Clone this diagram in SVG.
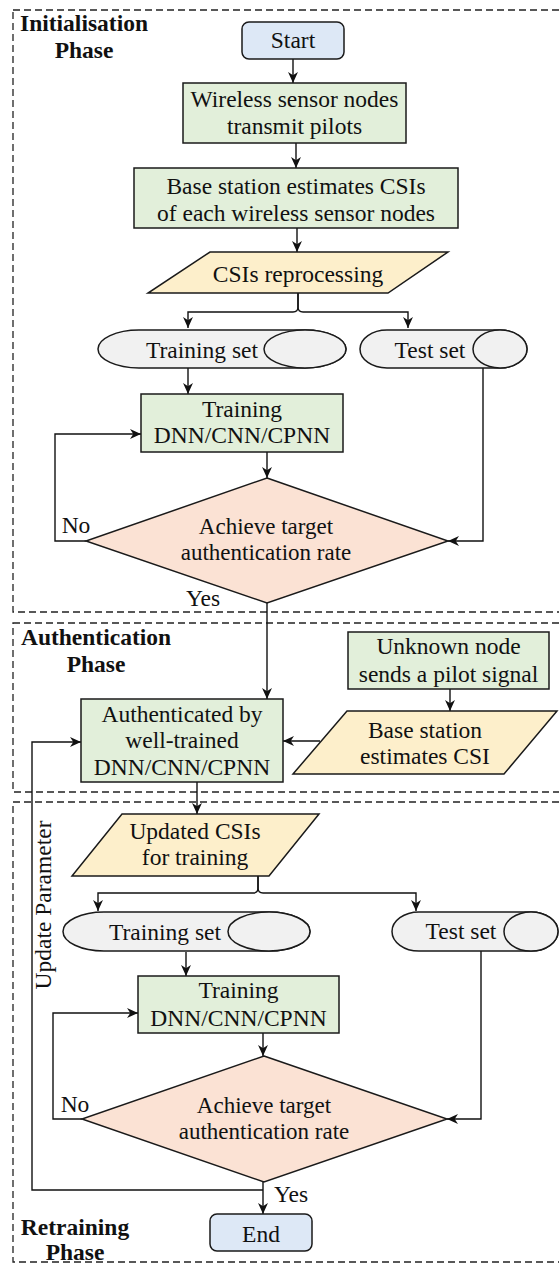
<svg xmlns="http://www.w3.org/2000/svg" width="559" height="1265" viewBox="0 0 559 1265">
<style>
.t{font-family:"Liberation Serif","Times New Roman",serif;font-size:23.5px;fill:#111;text-anchor:middle}
.d{font-family:"Liberation Serif","Times New Roman",serif;font-size:23px;fill:#111;text-anchor:middle}
.b{font-family:"Liberation Serif","Times New Roman",serif;font-size:23.5px;font-weight:bold;fill:#111;text-anchor:middle}
.phase{fill:none;stroke:#222;stroke-width:1.3;stroke-dasharray:7,4}
.g{fill:#e2efda;stroke:#1a1a1a;stroke-width:1.5}
.bl{fill:#dde8f6;stroke:#1a1a1a;stroke-width:1.5}
.y{fill:#fdefcb;stroke:#1a1a1a;stroke-width:1.5}
.p{fill:#fbe2d4;stroke:#1a1a1a;stroke-width:1.5}
.c{fill:#f1f1f1;stroke:#1a1a1a;stroke-width:1.5}
.a{fill:none;stroke:#111;stroke-width:1.4;marker-end:url(#arr)}
</style>
<defs>
<marker id="arr" viewBox="0 0 10 10" refX="10" refY="5" markerWidth="11" markerHeight="11" markerUnits="userSpaceOnUse" orient="auto">
<path d="M0,0.5 L10,5 L0,9.5 L3,5 z" fill="#111"/>
</marker>
</defs>

<g id="phases">
<rect class="phase" x="13" y="10" width="552" height="602"/>
<rect class="phase" x="13" y="623" width="552" height="169"/>
<rect class="phase" x="13" y="802" width="552" height="460"/>
<text class="b" x="84" y="31">Initialisation</text>
<text class="b" x="84" y="58">Phase</text>
<text class="b" x="96" y="645">Authentication</text>
<text class="b" x="96" y="672">Phase</text>
<text class="b" x="75" y="1235">Retraining</text>
<text class="b" x="75" y="1260">Phase</text>
</g>

<g id="connectors">
<path class="a" d="M293,59 V83"/>
<path class="a" d="M296,143 V168"/>
<path class="a" d="M297,228 V252"/>
<path class="a" d="M298,293 V307 Q298,312 293,312 H188 V328"/>
<path class="a" d="M298,293 V307 Q298,312 303,312 H408 V328"/>
<path class="a" d="M188,368 V394"/>
<path class="a" d="M483,368 V541 H448"/>
<path class="a" d="M267,452 V478"/>
<path class="a" d="M86,541 H55 V434 H141"/>
<path class="a" d="M267,603 V699"/>
<path class="a" d="M450,689 V711"/>
<path class="a" d="M320,741 H283"/>
<path class="a" d="M197,782 V814"/>
<path class="a" d="M258,876 V888 Q258,893 253,893 H98 V911"/>
<path class="a" d="M258,876 V888 Q258,893 263,893 H416 V911"/>
<path class="a" d="M186,952 V976"/>
<path class="a" d="M481,951 V1119 H447"/>
<path class="a" d="M263,1033 V1056"/>
<path class="a" d="M82,1119 H53 V1013 H138"/>
<path class="a" d="M263,1182 V1214"/>
<path class="a" d="M263,1190 H32 V742 H81"/>
<text class="t" x="76" y="533">No</text>
<text class="t" x="203" y="606">Yes</text>
<text class="t" x="75" y="1112">No</text>
<text class="t" x="291" y="1202">Yes</text>
<text class="t" transform="translate(51,905) rotate(-90)">Update Parameter</text>
</g>

<g id="start">
<rect class="bl" x="242" y="22" width="102" height="37" rx="7"/>
<text class="t" x="293" y="48">Start</text>
</g>

<g id="pilots">
<rect class="g" x="183" y="83" width="223" height="60"/>
<text class="t" x="294.5" y="107">Wireless sensor nodes</text>
<text class="t" x="294.5" y="134">transmit pilots</text>
</g>

<g id="estimate">
<rect class="g" x="134" y="168" width="324" height="60"/>
<text class="t" x="296" y="194">Base station estimates CSIs</text>
<text class="t" x="296" y="221">of each wireless sensor nodes</text>
</g>

<g id="preprocess">
<polygon class="y" points="210,252 448,252 388,293 148,293"/>
<text class="t" x="298" y="282">CSIs reprocessing</text>
</g>

<g id="trainset1">
<path class="c" d="M139,330 H305 A41,19 0 0 1 305,368 H139 A41,19 0 0 1 139,330 Z"/>
<ellipse class="c" cx="305" cy="349" rx="41" ry="19"/>
<text class="t" x="202" y="358">Training set</text>
</g>

<g id="testset1">
<path class="c" d="M387,330 H500 A27,19 0 0 1 500,368 H387 A27,19 0 0 1 387,330 Z"/>
<ellipse class="c" cx="500" cy="349" rx="27" ry="19"/>
<text class="t" x="430" y="358">Test set</text>
</g>

<g id="training1">
<rect class="g" x="141" y="394" width="202" height="58"/>
<text class="t" x="242" y="417">Training</text>
<text class="t" x="242" y="443">DNN/CNN/CPNN</text>
</g>

<g id="decision1">
<polygon class="p" points="267,478 448,541 267,603 86,541"/>
<text class="d" x="266" y="534">Achieve target</text>
<text class="d" x="266" y="560">authentication rate</text>
</g>

<g id="authenticate">
<rect class="g" x="81" y="699" width="202" height="83"/>
<text class="t" x="182" y="722">Authenticated by</text>
<text class="t" x="182" y="748">well-trained</text>
<text class="t" x="182" y="775">DNN/CNN/CPNN</text>
</g>

<g id="unknown">
<rect class="g" x="348" y="632" width="201" height="57"/>
<text class="t" x="448.5" y="654">Unknown node</text>
<text class="t" x="448.5" y="682">sends a pilot signal</text>
</g>

<g id="bsestimate">
<polygon class="y" points="347,711 557,711 504,774 293,774"/>
<text class="t" x="425" y="738">Base station</text>
<text class="t" x="425" y="764">estimates CSI</text>
</g>

<g id="updated">
<polygon class="y" points="122,814 319,814 269,876 72,876"/>
<text class="t" x="195" y="839">Updated CSIs</text>
<text class="t" x="195" y="865">for training</text>
</g>

<g id="trainset2">
<path class="c" d="M104,912 H269 A41,19.5 0 0 1 269,951 H104 A41,19.5 0 0 1 104,912 Z"/>
<ellipse class="c" cx="269" cy="931.5" rx="41" ry="19.5"/>
<text class="t" x="165" y="940">Training set</text>
</g>

<g id="testset2">
<path class="c" d="M419,912 H531 A27,19.5 0 0 1 531,951 H419 A27,19.5 0 0 1 419,912 Z"/>
<ellipse class="c" cx="531" cy="931.5" rx="27" ry="19.5"/>
<text class="t" x="461" y="939">Test set</text>
</g>

<g id="training2">
<rect class="g" x="138" y="976" width="201" height="57"/>
<text class="t" x="238.5" y="998">Training</text>
<text class="t" x="238.5" y="1026">DNN/CNN/CPNN</text>
</g>

<g id="decision2">
<polygon class="p" points="264,1056 447,1119 264,1182 82,1119"/>
<text class="d" x="264" y="1113">Achieve target</text>
<text class="d" x="264" y="1139">authentication rate</text>
</g>

<g id="end">
<rect class="bl" x="210" y="1214" width="102" height="37" rx="7"/>
<text class="t" x="261" y="1242">End</text>
</g>
</svg>
